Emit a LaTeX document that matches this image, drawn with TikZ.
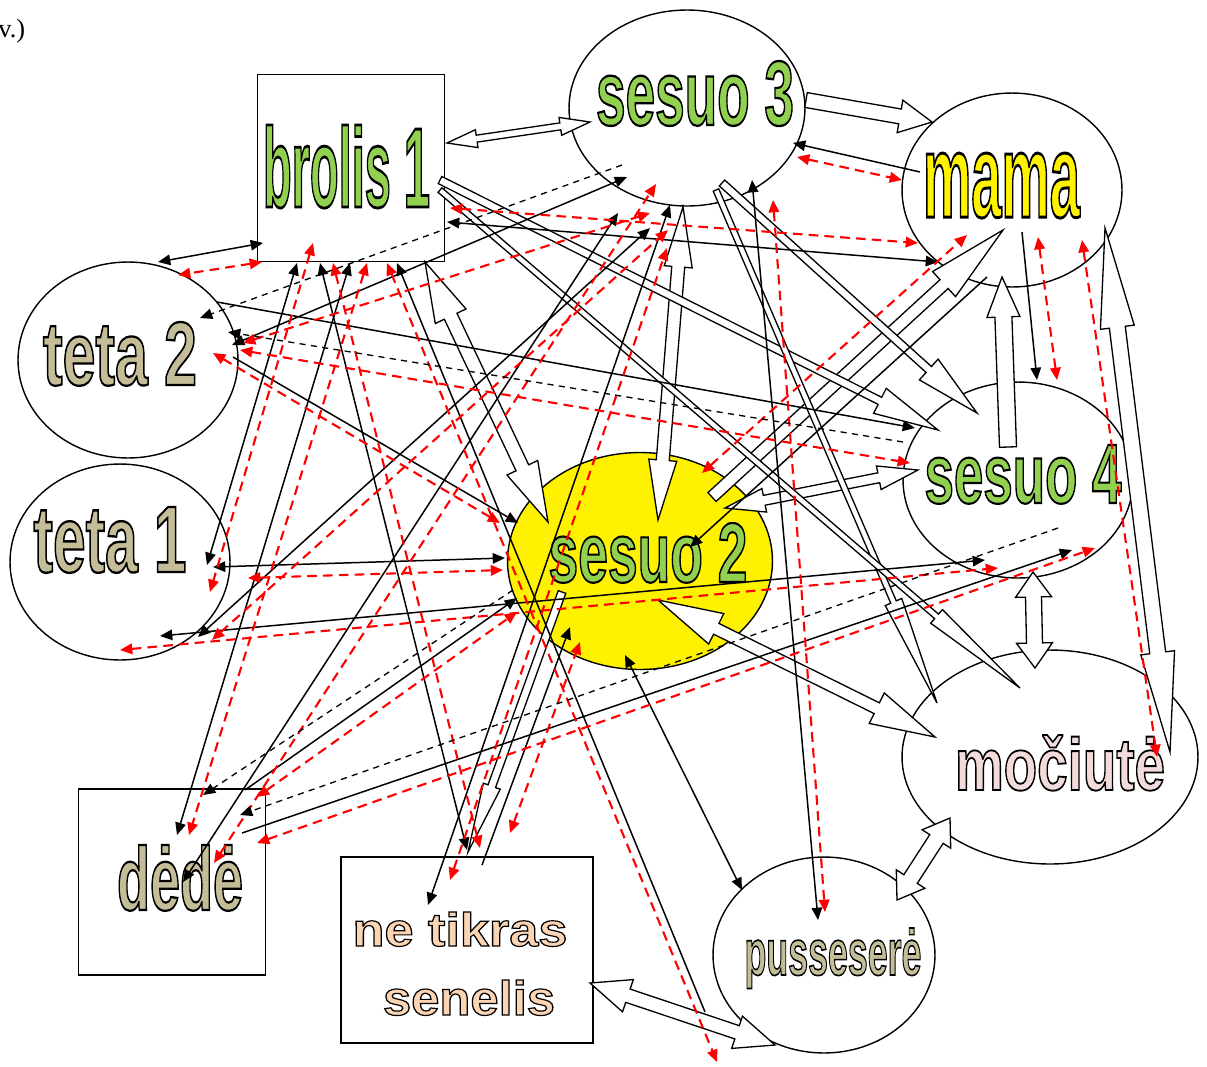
\documentclass[tikz,border=0pt]{standalone}
\usepackage{fontspec}
\setmainfont{Liberation Serif}
\newfontfamily\tagfont{Liberation Sans}
\usepackage{graphicx}
\usetikzlibrary{arrows.meta}
\usetikzlibrary{positioning}
\usetikzlibrary{calc}
\usetikzlibrary{shapes.geometric}

\definecolor{leaf}{HTML}{92D050}
\definecolor{khaki}{HTML}{C4BD97}
\definecolor{blush}{HTML}{F2DCDB}
\definecolor{peach}{HTML}{FBD4B4}

\newcommand\tagtext[4]{\resizebox{#2}{#3}{\color{#1}\special{pdf:literal direct 0 G 0.25 w 2 Tr}#4\special{pdf:literal direct 0 Tr}}}

\newcommand\onearrow[5]{%
  \coordinate (ha) at (#1);
  \coordinate (hb) at (#2);
  \coordinate (hh) at ($(hb)!#5!(ha)$);
  \draw[blockarr] ($(ha)!#3!90:(hb)$) -- ($(hh)!#3!90:(hb)$) -- ($(hh)!#4!90:(hb)$) -- (hb)
    -- ($(hh)!#4!-90:(hb)$) -- ($(hh)!#3!-90:(hb)$) -- ($(ha)!#3!-90:(hb)$) -- cycle;
}
\newcommand\twoarrow[5]{%
  \coordinate (ha) at (#1);
  \coordinate (hb) at (#2);
  \coordinate (hp) at ($(ha)!#5!(hb)$);
  \coordinate (hq) at ($(hb)!#5!(ha)$);
  \draw[blockarr] (ha) -- ($(hp)!#4!90:(hb)$) -- ($(hp)!#3!90:(hb)$) -- ($(hq)!#3!90:(hb)$) -- ($(hq)!#4!90:(hb)$) -- (hb)
    -- ($(hq)!#4!-90:(hb)$) -- ($(hq)!#3!-90:(hb)$) -- ($(hp)!#3!-90:(hb)$) -- ($(hp)!#4!-90:(hb)$) -- cycle;
}

\begin{document}
\begin{tikzpicture}[x=0.02cm, y=-0.02cm,
        >={Triangle[length=7pt,width=6pt]},
        kin/.style={ellipse, draw, line width=0.8pt, fill=white, inner sep=0pt},
        kinbox/.style={rectangle, draw, line width=0.8pt, fill=white, inner sep=0pt},
        tag/.style={anchor=base, inner sep=0pt, font=\tagfont\bfseries},
        bond/.style={black, line width=0.85pt},
        hint/.style={red, line width=1.2pt, dash pattern=on 5.5pt off 3.5pt},
        faint/.style={black, line width=0.75pt, dash pattern=on 3.5pt off 3pt},
        blockarr/.style={draw=black, fill=white, line width=0.75pt, line join=miter}]

        \useasboundingbox (0, 0) rectangle (1207, 1066);

        \node[anchor=base west, inner sep=0pt, font=\fontsize{15}{15}\selectfont] (note) at (-2, 37) {v.)};

        \node[kinbox, minimum width=3.74cm, minimum height=3.74cm] (brolis) at (351, 168) {};
        \node[kin, minimum width=4.72cm, minimum height=3.92cm] (sesuo3) at (687, 108) {};
        \node[kin, minimum width=4.40cm, minimum height=3.88cm] (mama) at (1012, 190) {};
        \node[kin, minimum width=4.40cm, minimum height=3.92cm] (teta2) at (128, 360) {};
        \node[kin, minimum width=4.40cm, minimum height=3.92cm] (teta1) at (120, 562) {};
        \node[kin, fill=yellow, minimum width=5.30cm, minimum height=4.34cm] (sesuo2) at (640, 561) {};
        \node[kin, minimum width=4.60cm, minimum height=3.92cm] (sesuo4) at (1018, 480) {};
        \node[kin, minimum width=5.92cm, minimum height=4.28cm] (mociute) at (1050, 757) {};
        \node[kin, minimum width=4.44cm, minimum height=3.92cm] (pusserere) at (824, 955) {};
        \node[kinbox, minimum width=3.74cm, minimum height=3.72cm] (dede) at (172, 882) {};
        \node[kinbox, minimum width=5.04cm, minimum height=3.72cm] (senelis) at (467, 950) {};

        \node[tag] (brolis-t) at ([shift={(-4.5,39)}]brolis.center) {\tagtext{leaf}{3.34cm}{1.64cm}{brolis 1}};
        \node[tag] (sesuo3-t) at ([shift={(8,17)}]sesuo3.center) {\tagtext{leaf}{3.96cm}{1.28cm}{sesuo 3}};
        \node[tag] (mama-t) at ([shift={(-10.5,27)}]mama.center) {\tagtext{yellow}{3.14cm}{1.28cm}{mama}};
        \node[tag] (teta2-t) at ([shift={(-8,25)}]teta2.center) {\tagtext{khaki}{3.08cm}{1.26cm}{teta 2}};
        \node[tag] (teta1-t) at ([shift={(-10,10)}]teta1.center) {\tagtext{khaki}{3.06cm}{1.30cm}{teta 1}};
        \node[tag] (sesuo2-t) at ([shift={(8,21)}]sesuo2.center) {\tagtext{leaf}{3.98cm}{1.18cm}{sesuo 2}};
        \node[tag] (sesuo4-t) at ([shift={(5,23)}]sesuo4.center) {\tagtext{leaf}{3.94cm}{1.16cm}{sesuo 4}};
        \node[tag] (mociute-t) at ([shift={(10,33)}]mociute.center) {\tagtext{blush}{4.20cm}{1.10cm}{močiutė}};
        \node[tag] (pusserere-t) at ([shift={(9,20)}]pusserere.center) {\tagtext{khaki}{3.54cm}{0.94cm}{pusseserė}};
        \node[tag] (dede-t) at ([shift={(8,28)}]dede.center) {\tagtext{khaki}{2.52cm}{1.30cm}{dėdė}};
        \node[tag] (senelis-t1) at ([shift={(-7,-4)}]senelis.center) {\tagtext{peach}{4.30cm}{0.68cm}{ne tikras}};
        \node[tag] (senelis-t2) at ([shift={(2,65)}]senelis.center) {\tagtext{peach}{3.44cm}{0.70cm}{senelis}};

        \twoarrow{[shift={(96,-25)}]brolis.center}{[shift={(-97,14)}]sesuo3.center}{0.07cm}{0.18cm}{0.6cm}
        \onearrow{[shift={(119,-8)}]sesuo3.center}{[shift={(-80,-68)}]mama.center}{0.15cm}{0.33cm}{0.65cm}
        \twoarrow{[shift={(-4,99)}]sesuo3.center}{[shift={(18,-41)}]sesuo2.center}{0.13cm}{0.28cm}{1.2cm}
        \onearrow{[shift={(72,-64)}]sesuo2.center}{[shift={(-9,40)}]mama.center}{0.12cm}{0.34cm}{1.6cm}
        \twoarrow{[shift={(85,-53)}]sesuo2.center}{[shift={(-100,-10)}]sesuo4.center}{0.10cm}{0.24cm}{0.8cm}
        \onearrow{[shift={(-10,-33)}]sesuo4.center}{[shift={(-10,87)}]mama.center}{0.17cm}{0.33cm}{0.8cm}
        \twoarrow{[shift={(93,38)}]mama.center}{[shift={(120,-5)}]mociute.center}{0.16cm}{0.34cm}{2.0cm}
        \twoarrow{[shift={(15,92)}]sesuo4.center}{[shift={(-15,-89)}]mociute.center}{0.16cm}{0.36cm}{0.5cm}
        \twoarrow{[shift={(73,-55)}]pusserere.center}{[shift={(-100,61)}]mociute.center}{0.16cm}{0.34cm}{0.5cm}
        \twoarrow{[shift={(123,33)}]senelis.center}{[shift={(-49,90)}]pusserere.center}{0.14cm}{0.34cm}{0.8cm}
        \twoarrow{[shift={(18,39)}]sesuo2.center}{[shift={(-115,-20)}]mociute.center}{0.12cm}{0.34cm}{1.3cm}
        \twoarrow{[shift={(74,94)}]brolis.center}{[shift={(-92,-39)}]sesuo2.center}{0.14cm}{0.34cm}{1.2cm}
        \onearrow{[shift={(-78,31)}]sesuo2.center}{[shift={(1,-98)}]senelis.center}{0.08cm}{0.18cm}{1.4cm}
        \onearrow{[shift={(35,75)}]sesuo3.center}{[shift={(-41,-67)}]sesuo4.center}{0.08cm}{0.28cm}{1.3cm}
        \onearrow{[shift={(89,12)}]brolis.center}{[shift={(-80,-50)}]sesuo4.center}{0.08cm}{0.28cm}{1.3cm}
        \onearrow{[shift={(29,82)}]sesuo3.center}{[shift={(-113,-54)}]mociute.center}{0.06cm}{0.18cm}{2.2cm}
        \onearrow{[shift={(89,22)}]brolis.center}{[shift={(-30,-69)}]mociute.center}{0.06cm}{0.18cm}{2.2cm}

        \draw[bond, <->] ([shift={(-88,75)}]brolis.center) -- ([shift={(30,-98)}]teta2.center);
        \draw[bond, <->] ([shift={(-54,95)}]brolis.center) -- ([shift={(87,3)}]teta1.center);
        \draw[bond, <->] ([shift={(-31,95)}]brolis.center) -- ([shift={(0,-100)}]senelis.center);
        \draw[bond, <->] ([shift={(-1,95)}]brolis.center) -- ([shift={(5,-47)}]dede.center);
        \draw[bond, ->] ([shift={(-119,57)}]pusserere.center) -- ([shift={(46,95)}]brolis.center);
        \draw[bond, ->] ([shift={(89,-58)}]teta2.center) -- ([shift={(-103,-52)}]sesuo4.center);
        \draw[bond, <->] ([shift={(104,-15)}]teta2.center) -- ([shift={(-60,69)}]sesuo3.center);
        \draw[bond, ->] ([shift={(105,-3)}]teta2.center) -- ([shift={(-122,-38)}]sesuo2.center);
        \draw[bond, <->] ([shift={(93,5)}]teta1.center) -- ([shift={(-135,-3)}]sesuo2.center);
        \draw[bond, <->] ([shift={(40,74)}]teta1.center) -- ([shift={(-33,80)}]sesuo4.center);
        \draw[bond, <->] ([shift={(78,75)}]teta1.center) -- ([shift={(-37,120)}]sesuo3.center);
        \draw[bond, <->] ([shift={(11,0)}]dede.center) -- ([shift={(-69,105)}]sesuo3.center);
        \draw[bond, <->] ([shift={(-39,-45)}]senelis.center) -- ([shift={(-17,97)}]sesuo3.center);
        \draw[bond, <->] ([shift={(65,72)}]sesuo3.center) -- ([shift={(-6,-35)}]pusserere.center);
        \draw[bond, ->] ([shift={(-92,-18)}]mama.center) -- ([shift={(106,35)}]sesuo3.center);
        \draw[bond, <->] ([shift={(96,54)}]brolis.center) -- ([shift={(-74,72)}]mama.center);
        \draw[bond, ->] ([shift={(-25,87)}]mama.center) -- ([shift={(50,-14)}]sesuo2.center);
        \draw[bond, ->] ([shift={(10,42)}]mama.center) -- ([shift={(19,-100)}]sesuo4.center);
        \draw[bond, ->] ([shift={(70,-49)}]dede.center) -- ([shift={(54,70)}]sesuo4.center);
        \draw[bond, ->] ([shift={(73,-92)}]dede.center) -- ([shift={(-123,37)}]sesuo2.center);
        \draw[bond, ->] ([shift={(15,-85)}]senelis.center) -- ([shift={(-70,66)}]sesuo2.center);
        \draw[bond, <->] ([shift={(-15,94)}]sesuo2.center) -- ([shift={(-82,-65)}]pusserere.center);

        \draw[hint, <->] ([shift={(-89,94)}]brolis.center) -- ([shift={(50,-85)}]teta2.center);
        \draw[hint, <->] ([shift={(-38,75)}]brolis.center) -- ([shift={(90,30)}]teta1.center);
        \draw[hint, <->] ([shift={(-18,95)}]brolis.center) -- ([shift={(13,-102)}]senelis.center);
        \draw[hint, <->] ([shift={(16,95)}]brolis.center) -- ([shift={(17,-47)}]dede.center);
        \draw[hint, <->] ([shift={(36,95)}]brolis.center) -- ([shift={(-107,107)}]pusserere.center);
        \draw[hint, <->] ([shift={(99,40)}]brolis.center) -- ([shift={(-94,53)}]mama.center);
        \draw[hint, <->] ([shift={(110,49)}]sesuo3.center) -- ([shift={(-110,-10)}]mama.center);
        \draw[hint, <->] ([shift={(115,-17)}]teta2.center) -- ([shift={(-37,105)}]sesuo3.center);
        \draw[hint, <->] ([shift={(112,-10)}]teta2.center) -- ([shift={(-108,-17)}]sesuo4.center);
        \draw[hint, <->] ([shift={(85,-7)}]teta2.center) -- ([shift={(-140,-38)}]sesuo2.center);
        \draw[hint, <->] ([shift={(128,16)}]teta1.center) -- ([shift={(-137,9)}]sesuo2.center);
        \draw[hint, <->] ([shift={(0,88)}]teta1.center) -- ([shift={(-20,88)}]sesuo4.center);
        \draw[hint, <->] ([shift={(92,78)}]teta1.center) -- ([shift={(-19,122)}]sesuo3.center);
        \draw[hint, <->] ([shift={(42,-19)}]dede.center) -- ([shift={(-31,76)}]sesuo3.center);
        \draw[hint, <->] ([shift={(-17,-70)}]senelis.center) -- ([shift={(-20,140)}]sesuo3.center);
        \draw[hint, <->] ([shift={(85,-85)}]dede.center) -- ([shift={(-123,51)}]sesuo2.center);
        \draw[hint, <->] ([shift={(85,-39)}]dede.center) -- ([shift={(77,68)}]sesuo4.center);
        \draw[hint, <->] ([shift={(43,-117)}]senelis.center) -- ([shift={(-60,81)}]sesuo2.center);
        \draw[hint, <->] ([shift={(62,-88)}]sesuo2.center) -- ([shift={(-45,45)}]mama.center);
        \draw[hint, <->] ([shift={(26,47)}]mama.center) -- ([shift={(39,-100)}]sesuo4.center);
        \draw[hint, <->] ([shift={(70,50)}]mama.center) -- ([shift={(107,0)}]mociute.center);
        \draw[hint, <->] ([shift={(86,92)}]sesuo3.center) -- ([shift={(1,-43)}]pusserere.center);

        \draw[faint, ->] ([shift={(-65,57)}]sesuo3.center) -- ([shift={(72,-42)}]teta2.center);
        \draw[faint, ->] ([shift={(-115,-38)}]sesuo4.center) -- ([shift={(100,-28)}]teta2.center);
        \draw[faint, ->] ([shift={(-127,29)}]sesuo2.center) -- ([shift={(31,-87)}]dede.center);
        \draw[faint, ->] ([shift={(40,48)}]sesuo4.center) -- ([shift={(68,-67)}]dede.center);
\end{tikzpicture}
\end{document}
